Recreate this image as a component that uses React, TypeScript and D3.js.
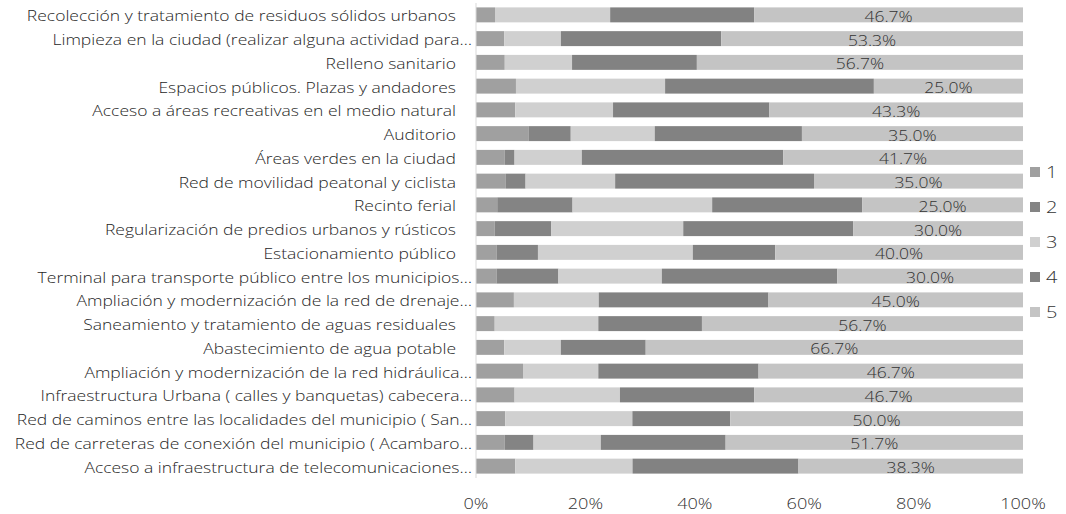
import React from "react";
import * as d3 from "d3";

const categories = [
  "Recolección y tratamiento de residuos sólidos urbanos",
  "Limpieza en la ciudad (realizar alguna actividad para…",
  "Relleno sanitario",
  "Espacios públicos. Plazas y andadores",
  "Acceso a áreas recreativas en el medio natural",
  "Auditorio",
  "Áreas verdes en la ciudad",
  "Red de movilidad peatonal y ciclista",
  "Recinto ferial",
  "Regularización de predios urbanos y rústicos",
  "Estacionamiento público",
  "Terminal para transporte público entre los municipios…",
  "Ampliación y modernización de la red de drenaje…",
  "Saneamiento y tratamiento de aguas residuales",
  "Abastecimiento de agua potable",
  "Ampliación y modernización de la red hidráulica…",
  "Infraestructura Urbana ( calles y banquetas) cabecera…",
  "Red de caminos entre las localidades del municipio ( San…",
  "Red de carreteras de conexión del municipio ( Acambaro…",
  "Acceso a infraestructura de telecomunicaciones…",
];

// values in percent of respondents (rows do not sum to 100; chart is 100% stacked)
const s1 = [3.3, 5.0, 5.0, 6.7, 6.7, 8.3, 5.0, 5.0, 3.3, 3.3, 3.3, 3.3, 6.7, 3.3, 5.0, 8.3, 6.7, 5.0, 5.0, 6.7];
const s2 = [0, 0, 0, 0, 0, 6.7, 1.7, 3.3, 11.7, 10.0, 6.7, 10.0, 0, 0, 0, 0, 0, 0, 5.0, 0];
const s3 = [20.0, 10.0, 11.7, 25.0, 16.7, 13.3, 11.7, 15.0, 21.7, 23.3, 25.0, 16.7, 15.0, 18.3, 10.0, 13.3, 18.3, 21.7, 11.7, 20.0];
const s4 = [25.0, 28.3, 21.7, 35.0, 26.7, 23.3, 35.0, 33.3, 23.3, 30.0, 13.3, 28.3, 30.0, 18.3, 15.0, 28.3, 23.3, 16.7, 21.7, 28.3];
const s5 = [46.7, 53.3, 56.7, 25.0, 43.3, 35.0, 41.7, 35.0, 25.0, 30.0, 40.0, 30.0, 45.0, 56.7, 66.7, 46.7, 46.7, 50.0, 51.7, 38.3];

const seriesNames = ["1", "2", "3", "4", "5"];
const xTicks = [0, 0.2, 0.4, 0.6, 0.8, 1];

const colors = ["#a0a0a0", "#848484", "#d0d0d0", "#828282", "#c4c4c4"];

export default function App() {
  const width = 1066;
  const height = 514;
  const rows = categories.map((c, i) => ({
    cat: c,
    "1": s1[i],
    "2": s2[i],
    "3": s3[i],
    "4": s4[i],
    "5": s5[i],
  }));
  const stack = d3.stack<any>().keys(seriesNames).offset(d3.stackOffsetExpand);
  const layers = stack(rows);

  const x = d3.scaleLinear().domain([0, 1]).range([476, 1023]);
  const y = d3.scaleBand().domain(categories).range([3, 478]).paddingInner(0.37).paddingOuter(0.185);

  const font = "'Open Sans', 'Noto Sans', sans-serif";
  const sx = 1.25;
  const fw = 300;

  return (
    <svg width={width} height={height} style={{ position: "absolute", left: 0, top: 0, background: "#fff" }}>
      <rect x={0} y={0} width={width} height={height} fill="#fff" />
      {layers.map((layer, li) => (
        <g key={li} fill={colors[li]}>
          {layer.map((d, i) => (
            <rect
              key={i}
              x={x(d[0])}
              y={y(categories[i])}
              width={Math.max(0, x(d[1]) - x(d[0]))}
              height={y.bandwidth()}
            />
          ))}
        </g>
      ))}
      <line x1={x(0)} x2={x(0)} y1={3} y2={478} stroke="#d9d9d9" />
      {layers[4].map((d, i) => (
        <text
          key={i}
          transform={`translate(${(x(d[0]) + x(d[1])) / 2},${(y(categories[i]) as number) + y.bandwidth() / 2 + 7}) scale(${sx},1)`}
          textAnchor="middle"
          fontFamily={font}
          fontWeight={fw}
          fontSize={14}
          fill="#333333"
        >
          {s5[i].toFixed(1) + "%"}
        </text>
      ))}
      {categories.map((c, i) => (
        <text
          key={c}
          transform={`translate(${c.endsWith("…") ? 472 : 456},${(y(c) as number) + y.bandwidth() / 2 + 6.5}) scale(${sx},1)`}
          textAnchor="end"
          fontFamily={font}
          fontWeight={fw}
          fontSize={14}
          fill="#262626"
        >
          {c}
        </text>
      ))}
      {xTicks.map((t) => (
        <text
          key={t}
          transform={`translate(${x(t)},509) scale(${sx},1)`}
          textAnchor="middle"
          fontFamily={font}
          fontWeight={fw}
          fontSize={14.5}
          fill="#333333"
        >
          {d3.format(".0%")(t)}
        </text>
      ))}
      {seriesNames.map((s, i) => (
        <g key={s} transform={`translate(1030, ${167 + i * 35})`}>
          <rect x={0} y={0} width={10} height={10} fill={colors[i]} />
          <text transform={`translate(16,11) scale(${sx},1)`} fontFamily={font} fontWeight={fw} fontSize={16} fill="#333333">
            {s}
          </text>
        </g>
      ))}
    </svg>
  );
}
